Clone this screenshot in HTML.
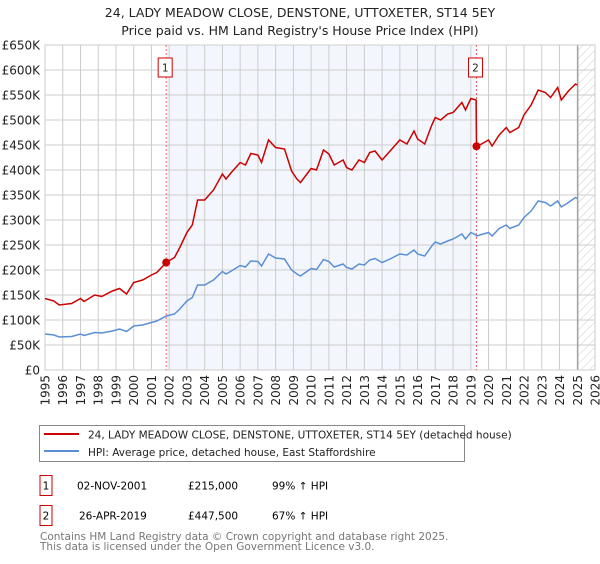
<!DOCTYPE html>
<html><head><meta charset="utf-8"><style>
body{margin:0;background:#fff;font-family:"DejaVu Sans","Liberation Sans",sans-serif;}
svg text{font-family:"DejaVu Sans","Liberation Sans",sans-serif;}
</style></head><body>
<svg id="chart" width="600" height="560" xmlns="http://www.w3.org/2000/svg">
<defs><pattern id="hatch" width="6" height="6" patternUnits="userSpaceOnUse" patternTransform="rotate(45)"><line x1="0" y1="0" x2="0" y2="6" stroke="#ccc" stroke-width="1"/></pattern></defs>
<text x="300" y="17" text-anchor="middle" font-size="12.5" fill="#222">24, LADY MEADOW CLOSE, DENSTONE, UTTOXETER, ST14 5EY</text>
<text x="300" y="35" text-anchor="middle" font-size="12.5" fill="#222">Price paid vs. HM Land Registry's House Price Index (HPI)</text>
<g id="plot"></g>
<rect x="39.5" y="425.5" width="425" height="36" fill="#fff" stroke="#888"/>
<line x1="44" y1="434" x2="79" y2="434" stroke="#cc0000" stroke-width="2"/>
<text x="88" y="438.5" font-size="10.5" fill="#222">24, LADY MEADOW CLOSE, DENSTONE, UTTOXETER, ST14 5EY (detached house)</text>
<line x1="44" y1="451" x2="79" y2="451" stroke="#5b8fd4" stroke-width="2"/>
<text x="88" y="456" font-size="10.5" fill="#222">HPI: Average price, detached house, East Staffordshire</text>
<rect x="40" y="475.5" width="12" height="20" fill="#fff" stroke="#cc0000"/>
<text x="46" y="489.5" text-anchor="middle" font-size="10.5">1</text>
<text x="77" y="489.5" font-size="10.5">02-NOV-2001</text>
<text x="188" y="489.5" font-size="10.5">£215,000</text>
<text x="272" y="489.5" font-size="10.5">99% ↑ HPI</text>
<rect x="40" y="505.5" width="12" height="20" fill="#fff" stroke="#cc0000"/>
<text x="46" y="519.5" text-anchor="middle" font-size="10.5">2</text>
<text x="79" y="519.5" font-size="10.5">26-APR-2019</text>
<text x="188" y="519.5" font-size="10.5">£447,500</text>
<text x="272" y="519.5" font-size="10.5">67% ↑ HPI</text>
<text x="40" y="540" font-size="10.5" fill="#777">Contains HM Land Registry data © Crown copyright and database right 2025.</text>
<text x="40" y="550" font-size="10.5" fill="#777">This data is licensed under the Open Government Licence v3.0.</text>
</svg>
<script>
const years=[1995.0,1995.5,1995.8,1996.5,1997.0,1997.2,1997.8,1998.2,1998.8,1999.2,1999.6,2000.0,2000.5,2001.0,2001.3,2001.83,2002.3,2002.6,2003.0,2003.3,2003.6,2004.0,2004.5,2005.0,2005.2,2005.5,2006.0,2006.3,2006.6,2007.0,2007.2,2007.6,2008.0,2008.5,2008.9,2009.2,2009.4,2010.0,2010.3,2010.7,2011.0,2011.3,2011.8,2012.0,2012.3,2012.7,2013.0,2013.3,2013.6,2014.0,2014.5,2015.0,2015.4,2015.8,2016.0,2016.4,2016.8,2017.0,2017.3,2017.7,2018.0,2018.5,2018.7,2019.0,2019.3,2019.32,2019.6,2020.0,2020.2,2020.6,2021.0,2021.2,2021.7,2022.0,2022.4,2022.8,2023.2,2023.5,2023.9,2024.1,2024.5,2024.9,2025.0];
const hpiValues=[72,70,66,67,72,69,75,74,78,82,77,88,90,95,98,108,112,122,138,145,170,170,180,197,192,198,209,206,218,217,208,232,224,222,200,192,188,203,201,221,217,206,212,205,202,212,210,220,223,215,223,232,230,240,232,228,248,256,252,258,262,272,262,275,270,268,271,275,268,283,290,283,290,305,318,338,335,328,338,326,335,345,343];
const propertyValues=[143,138,130,133,143,137,150,147,158,163,152,175,180,190,195,215,225,245,275,290,340,340,360,392,382,395,415,410,433,430,415,460,445,442,398,382,375,403,400,440,432,410,420,405,400,420,415,435,438,420,440,460,452,478,462,452,490,505,500,512,515,535,520,543,540,447.5,452,460,448,470,485,475,485,510,530,560,555,545,565,540,558,572,570];
const saleYears=[2001.83,2019.32];
const salePrices=[215,447.5];
const saleLabels=["1","2"];
const yTicks=[0,50,100,150,200,250,300,350,400,450,500,550,600,650];
const xTicks=[1995,1996,1997,1998,1999,2000,2001,2002,2003,2004,2005,2006,2007,2008,2009,2010,2011,2012,2013,2014,2015,2016,2017,2018,2019,2020,2021,2022,2023,2024,2025,2026];
const X0=45,X1=595,Y0=370,Y1=45,xMin=1995,xMax=2026,yMax=650,dataEnd=2025.03;
const xs=v=>X0+(v-xMin)/(xMax-xMin)*(X1-X0);
const ys=v=>Y0-v/yMax*(Y0-Y1);
const NS="http://www.w3.org/2000/svg";
const g=document.getElementById('plot');
function mk(tag,attrs){const e=document.createElementNS(NS,tag);for(const k in attrs)e.setAttribute(k,attrs[k]);g.appendChild(e);return e;}
let r=mk('rect',{x:xs(saleYears[0]),y:Y1,width:xs(saleYears[1])-xs(saleYears[0]),height:Y0-Y1,fill:'#eef3fc',opacity:0.7});


r=mk('rect',{x:xs(dataEnd),y:Y1,width:X1-xs(dataEnd),height:Y0-Y1,fill:'url(#hatch)'});


yTicks.forEach(t=>{
 const l=mk('line',{x1:X0,x2:X1,y1:ys(t),y2:ys(t),stroke:'#ccc','stroke-width':1});
 
 
 const tx=mk('text',{x:40,y:ys(t)+4.5,'text-anchor':'end','font-size':'12',fill:'#222'});
 tx.textContent=t===0?'£0':'£'+t+'K';
 
 
});
xTicks.forEach(t=>{
 const l=mk('line',{x1:xs(t),x2:xs(t),y1:Y1,y2:Y0,stroke:'#ccc','stroke-width':1});
 
 
 const tx=mk('text',{x:0,y:0,'text-anchor':'end','font-size':'12',fill:'#222',transform:`translate(${xs(t)+4.5},375) rotate(-90)`});
 tx.textContent=t;
 
 
});
let el=mk('line',{x1:xs(dataEnd),x2:xs(dataEnd),y1:Y1,y2:Y0,stroke:'#999','stroke-width':1.2});


el=mk('rect',{x:X0,y:Y1,width:X1-X0,height:Y0-Y1,fill:'none',stroke:'#ccc'});


saleYears.forEach((s,i)=>{
 const l=mk('line',{x1:xs(s),x2:xs(s),y1:Y1,y2:Y0,stroke:'#e66','stroke-width':1,'stroke-dasharray':'2,2'});
 
 
 const b=mk('rect',{x:xs(s)-8,y:58,width:14,height:19,fill:'#fff',stroke:'#cc0000'});
 
 
 const t=mk('text',{x:xs(s)-1,y:71.5,'text-anchor':'middle','font-size':'10.5',fill:'#222'});
 t.textContent=saleLabels[i];
 
 
});
function pathOf(vals){return vals.map((v,i)=>(i?'L':'M')+xs(years[i]).toFixed(1)+','+ys(v).toFixed(1)).join('');}
el=mk('path',{d:pathOf(hpiValues),fill:'none',stroke:'#5b8fd4','stroke-width':1.5});


el=mk('path',{d:pathOf(propertyValues),fill:'none',stroke:'#cc0000','stroke-width':1.5});


saleYears.forEach((s,i)=>{
 const c=mk('circle',{cx:xs(s),cy:ys(salePrices[i]),r:4,fill:'#cc0000'});
 
 
});
</script>
</body></html>
